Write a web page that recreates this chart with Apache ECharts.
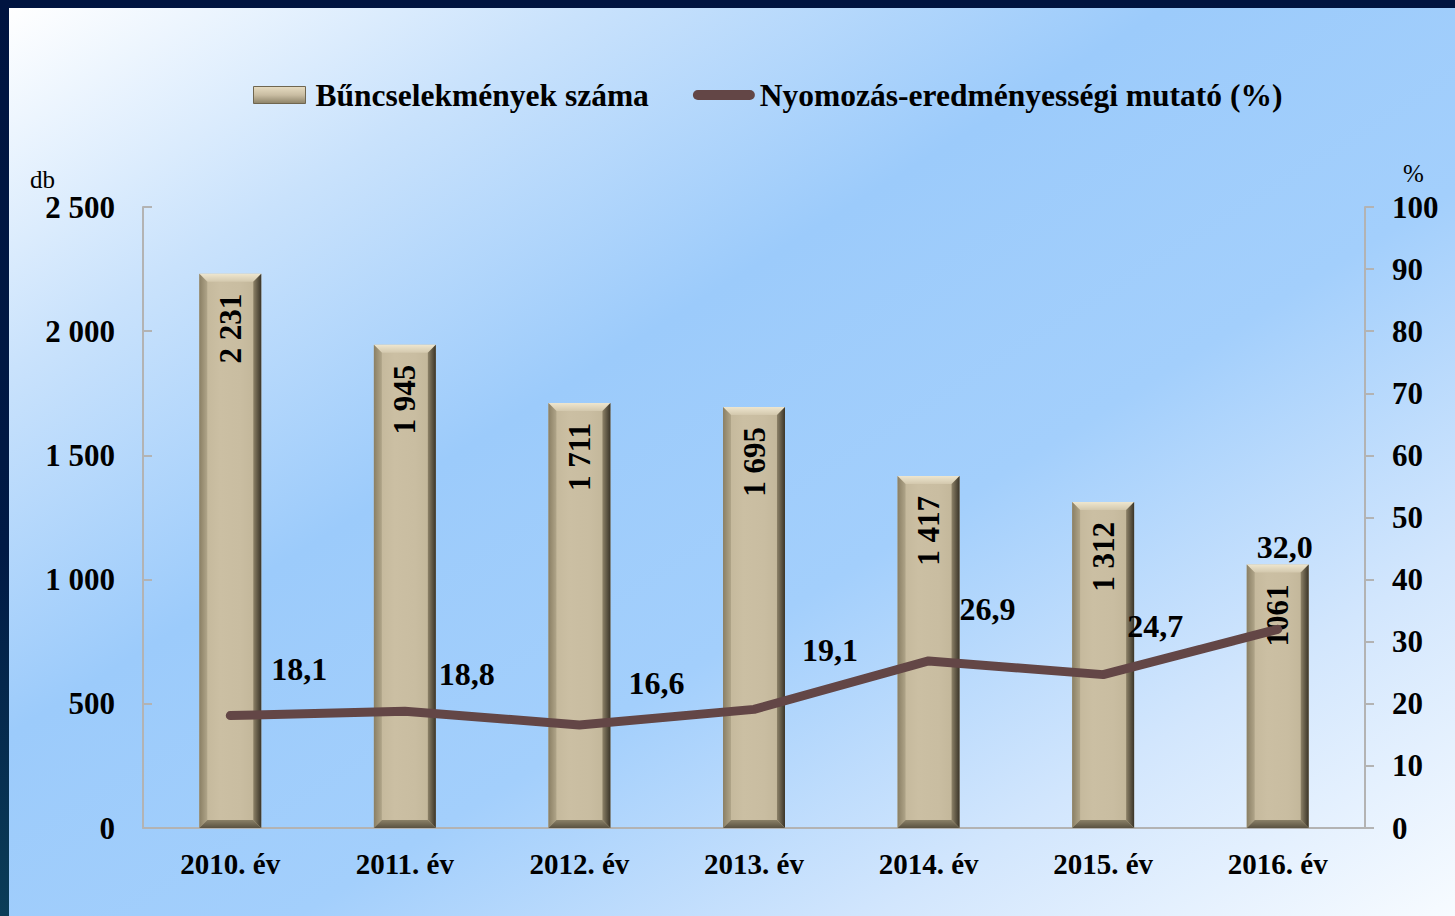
<!DOCTYPE html>
<html>
<head>
<meta charset="utf-8">
<script src="https://cdn.jsdelivr.net/npm/echarts@6/dist/echarts.min.js"></script>
<style>
  html, body { margin: 0; padding: 0; width: 1455px; height: 916px; overflow: hidden; }
  body { background: linear-gradient(180deg, #001440 0%, #001a45 60%, #0b3d58 100%); position: relative; }
  #chart { position: absolute; left: 9px; top: 8px; width: 1446px; height: 908px; }
</style>
</head>
<body>
<div id="chart"></div>
<script>
  const years = ["2010. év", "2011. év", "2012. év", "2013. év", "2014. év", "2015. év", "2016. év"]
  const crimes = [2231, 1945, 1711, 1695, 1417, 1312, 1061]
  const crimeLabels = ["2 231", "1 945", "1 711", "1 695", "1 417", "1 312", "1061"]
  const clearance = [18.1, 18.8, 16.6, 19.1, 26.9, 24.7, 32.0]
  const leftTicks = ["0", "500", "1 000", "1 500", "2 000", "2 500"]
  const rightTicks = ["0", "10", "20", "30", "40", "50", "60", "70", "80", "90", "100"]

  // label placement for the line values (style only)
  const lineLabelOffsets = [[69, -25], [62, -16], [77, -20], [76, -38], [59, -30], [52, -27], [7, -61]]

  const font = '"Liberation Serif", "Times New Roman", serif'
  const barName = "Bűncselekmények száma"
  const lineName = "Nyomozás-eredményességi mutató (%)"

  function grad(x, y, x2, y2, stops) {
    return new echarts.graphic.LinearGradient(x, y, x2, y2, stops.map((c, i) => ({ offset: i / (stops.length - 1), color: c })))
  }

  function renderBar(params, api) {
    const idx = api.value(0)
    const top = api.coord([idx, api.value(1)])
    const base = api.coord([idx, 0])
    const w = api.size([1, 0])[0] * 0.355
    const x0 = top[0] - w / 2
    const x1 = top[0] + w / 2
    const y0 = top[1]
    const y1 = base[1]
    const b = 8
    return {
      type: "group",
      children: [
        { type: "rect", shape: { x: x0, y: y0, width: w, height: y1 - y0 },
          style: { fill: grad(0, 0, 1, 0, ["#c2b699", "#cbbfa3", "#c9bda1", "#c0b497"]) } },
        { type: "polygon", shape: { points: [[x0, y0], [x1, y0], [x1 - b, y0 + b], [x0 + b, y0 + b]] },
          style: { fill: grad(0, 0, 0, 1, ["#eee6cf", "#d3c8ad"]) } },
        { type: "polygon", shape: { points: [[x0, y0], [x0 + b, y0 + b], [x0 + b, y1 - b], [x0, y1]] },
          style: { fill: grad(0, 0, 1, 0, ["#8a7f64", "#b0a589"]) } },
        { type: "polygon", shape: { points: [[x1, y0], [x1, y1], [x1 - b, y1 - b], [x1 - b, y0 + b]] },
          style: { fill: grad(0, 0, 1, 0, ["#8d8268", "#3a3428"]) } },
        { type: "polygon", shape: { points: [[x0, y1], [x0 + b, y1 - b], [x1 - b, y1 - b], [x1, y1]] },
          style: { fill: grad(0, 0, 0, 1, ["#8a8067", "#5a5241"]) } },
        { type: "text", x: top[0], y: y0 + 20, rotation: Math.PI / 2,
          style: { text: crimeLabels[idx], align: "right", verticalAlign: "middle",
                   font: "bold 31px " + font, fill: "#000" } },
      ],
    }
  }

  const chart = echarts.init(document.getElementById("chart"), null, { renderer: "svg" })
  chart.setOption({
    backgroundColor: grad(0, 0, 1, 1, ["#ffffff", "#c9e2fc", "#9ccbfb", "#a3cffc", "#d2e6fd", "#f7fbff"]),
    textStyle: { fontFamily: font },
    legend: {
      left: 239,
      top: 66,
      itemWidth: 62,
      itemHeight: 17,
      itemGap: 44,
      symbolKeepAspect: true,
      textStyle: { fontSize: 31.5, fontWeight: "bold", color: "#000", fontFamily: font },
      data: [
        { name: barName, icon: "path://M0,0 H52 V17 H0 Z",
          itemStyle: { color: grad(0, 0, 0, 1, ["#e6dcc2", "#c9bda2", "#8c8268"]), borderColor: "#6f6650", borderWidth: 1 } },
        { name: lineName, icon: "path://M5,0 H57 A5,5 0 0 1 57,10 H5 A5,5 0 0 1 5,0 Z",
          itemStyle: { color: "#634646" } },
      ],
    },
    grid: { left: 134, right: 90, top: 199, bottom: 88, containLabel: false },
    xAxis: {
      type: "category",
      data: years,
      axisLine: { lineStyle: { color: "#b3b3b3", width: 2 } },
      axisTick: { show: false },
      axisLabel: { color: "#000", fontSize: 29, fontWeight: "bold", margin: 21, fontFamily: font },
    },
    yAxis: [
      {
        type: "value", min: 0, max: 2500, interval: 500,
        name: "db", nameLocation: "end", nameGap: 11,
        nameTextStyle: { color: "#000", fontSize: 25, align: "right", padding: [0, 88, 0, 0], fontFamily: font },
        axisLine: { show: true, lineStyle: { color: "#b3b3b3", width: 2 } },
        axisTick: { show: true, inside: true, length: 9, lineStyle: { color: "#b3b3b3", width: 2 } },
        splitLine: { show: false },
        axisLabel: { color: "#000", fontSize: 31, fontWeight: "bold", margin: 28, fontFamily: font,
                     formatter: (v) => leftTicks[Math.round(v / 500)] },
      },
      {
        type: "value", min: 0, max: 100, interval: 10,
        name: "%", nameLocation: "end", nameGap: 21,
        nameTextStyle: { color: "#000", fontSize: 25, align: "left", padding: [0, 0, 0, 38], fontFamily: font },
        axisLine: { show: true, lineStyle: { color: "#b3b3b3", width: 2 } },
        axisTick: { show: true, inside: false, length: 9, lineStyle: { color: "#b3b3b3", width: 2 } },
        splitLine: { show: false },
        axisLabel: { color: "#000", fontSize: 31, fontWeight: "bold", margin: 27, fontFamily: font,
                     formatter: (v) => rightTicks[Math.round(v / 10)] },
      },
    ],
    series: [
      {
        name: barName,
        type: "custom",
        renderItem: renderBar,
        itemStyle: { color: "#c9bda2" },
        encode: { x: 0, y: 1 },
        data: crimes.map((v, i) => [i, v]),
        z: 2,
      },
      {
        name: lineName,
        type: "line",
        yAxisIndex: 1,
        symbol: "circle",
        symbolSize: 1,
        showSymbol: true,
        itemStyle: { color: "#634646" },
        lineStyle: { color: "#634646", width: 9, cap: "round", join: "round" },
        label: {
          show: true, position: "top", color: "#000", fontSize: 32, fontWeight: "bold", fontFamily: font,
          formatter: (p) => p.value.toFixed(1).replace(".", ","),
        },
        data: clearance.map((v, i) => ({ value: v, label: { offset: lineLabelOffsets[i] } })),
        z: 5,
      },
    ],
  })
</script>
</body>
</html>
